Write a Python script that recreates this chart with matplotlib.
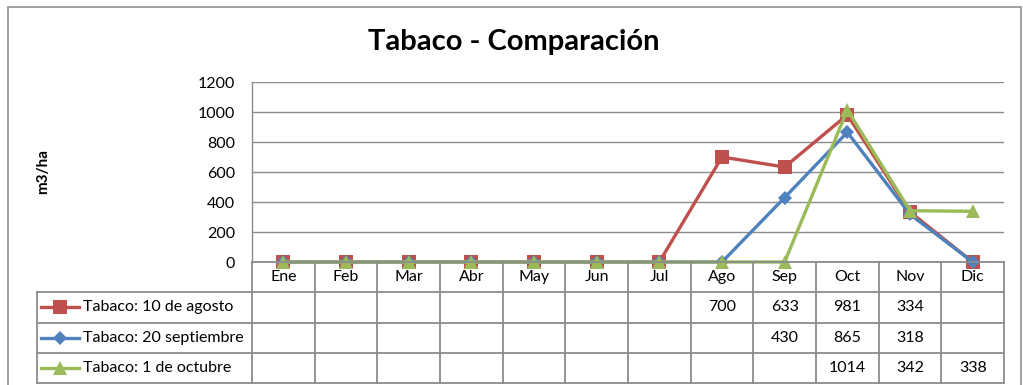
import matplotlib
matplotlib.use("Agg")
import matplotlib.pyplot as plt
from matplotlib.patches import Rectangle

plt.rcParams['font.family'] = ['Lato', 'DejaVu Sans']

# Chart data
months = ["Ene", "Feb", "Mar", "Abr", "May", "Jun", "Jul", "Ago", "Sep", "Oct", "Nov", "Dic"]
series_names = ["Tabaco: 10 de agosto", "Tabaco: 20 septiembre", "Tabaco: 1 de octubre"]
agosto = [0, 0, 0, 0, 0, 0, 0, 700, 633, 981, 334, 0]
septiembre = [0, 0, 0, 0, 0, 0, 0, 0, 430, 865, 318, 0]
octubre = [0, 0, 0, 0, 0, 0, 0, 0, 0, 1014, 342, 338]
y_ticks = [0, 200, 400, 600, 800, 1000, 1200]

series = [agosto, septiembre, octubre]
colors = ["#C0504D", "#4F81BD", "#9BBB59"]
markers = ["s", "D", "^"]
msizes = [9.5, 7.0, 10.0]
grid_c = "#8C8C8C"
fs = 11.5

W, H = 1023, 385
fig = plt.figure(figsize=(W / 100, H / 100), dpi=100)

def px_rect(x0, y0, x1, y1):
    return [x0 / W, 1 - y1 / H, (x1 - x0) / W, (y1 - y0) / H]

# outer chart frame
fig.add_artist(Rectangle((8 / W, -0.1), (1021 - 8) / W, 1.1 - 7 / H,
                         transform=fig.transFigure, fill=False,
                         edgecolor="#9A9A9A", linewidth=1.3))

# plot area
ax = fig.add_axes(px_rect(252, 82, 1004, 262))
x = list(range(len(months)))
for vals, c, m, ms, name in zip(series, colors, markers, msizes, series_names):
    ax.plot(x, vals, color=c, linewidth=2.4, marker=m, markersize=ms,
            markeredgewidth=0, label=name, clip_on=False, zorder=3)
ax.set_xlim(-0.5, len(months) - 0.5)
ax.set_ylim(0, 1200)
ax.set_yticks(y_ticks)
ax.set_yticklabels([str(v) for v in y_ticks], fontsize=fs)
ax.tick_params(axis="y", length=0, pad=12)
ax.set_xticks([])
ax.grid(axis="y", color=grid_c, linewidth=1.0)
ax.set_axisbelow(True)
for s in ["top", "right", "bottom"]:
    ax.spines[s].set_visible(False)
ax.spines["left"].set_color(grid_c)
ax.spines["left"].set_linewidth(1.0)
ax.set_ylabel("m3/ha", fontsize=11, fontweight="bold")
ax.yaxis.label.set_va("center")
ax.yaxis.set_label_coords(-(252 - 43) / (1004 - 252), (262 - 171) / 180)

fig.text(514 / W, 1 - 42 / H, "Tabaco - Comparación", fontsize=21,
         fontweight="bold", ha="center", va="center")

# data table below the plot
col_w = (1004 - 252) / len(months)
leg_w = (252 - 37) / col_w
tab = fig.add_axes(px_rect(37, 262, 1004, 383))
tab.set_xlim(-0.5 - leg_w, len(months) - 0.5)
tab.set_ylim(4, 0)
tab.axis("off")
lc = grid_c
lw = 1.3
left = -0.5 - leg_w
right = len(months) - 0.5
tab.plot([-0.5, right], [0, 0], color=lc, linewidth=lw, clip_on=False)
for r in range(1, 5):
    tab.plot([left, right], [r, r], color=lc, linewidth=lw, clip_on=False)
for k in range(len(months) + 1):
    tab.plot([k - 0.5, k - 0.5], [0, 4], color=lc, linewidth=lw, clip_on=False)
tab.plot([left, left], [1, 4], color=lc, linewidth=lw, clip_on=False)

for i, mname in enumerate(months):
    tab.text(i, 0.5, mname, ha="center", va="center", fontsize=fs)

for r, (vals, c, m, ms, name) in enumerate(zip(series, colors, markers, msizes, series_names), start=1):
    xs0 = left + 4 / col_w
    xs1 = left + 42 / col_w
    tab.plot([xs0, xs1], [r + 0.5, r + 0.5], color=c, linewidth=2.4)
    tab.plot([(xs0 + xs1) / 2], [r + 0.5], color=c, marker=m, markersize=ms,
             markeredgewidth=0)
    tab.text(left + 46 / col_w, r + 0.5, name, ha="left", va="center", fontsize=fs)
    for i, v in enumerate(vals):
        if v:
            tab.text(i, r + 0.5, str(v), ha="center", va="center", fontsize=fs)

fig.savefig("out.png", dpi=100)
